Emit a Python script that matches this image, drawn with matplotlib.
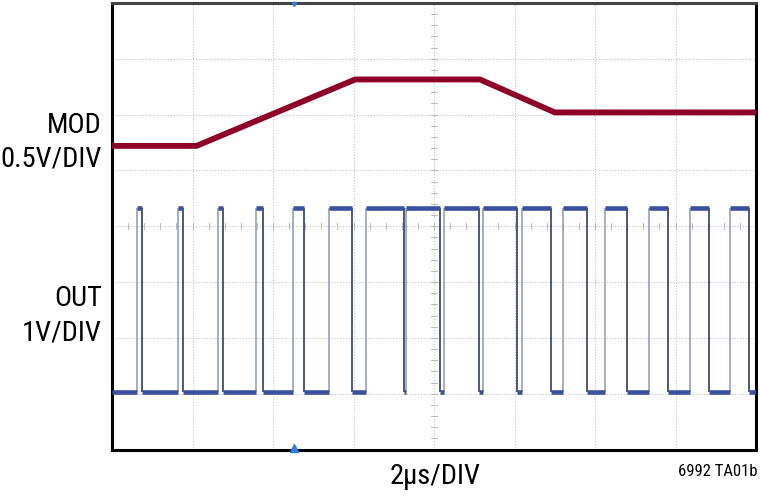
import numpy as np
import matplotlib.pyplot as plt

# time axis in microseconds (2us/DIV, 8 divisions), vertical in divisions
t_max = 16.0
n_div_y = 8

# MOD trace breakpoints (us, div)
mod_t = [0.0, 2.10, 6.04, 9.14, 11.0, 16.0]
mod_v = [5.44, 5.44, 6.63, 6.63, 6.04, 6.04]

# OUT switching edges (us)
out_rise = [0.614, 1.640, 2.634, 3.570, 4.490, 5.391, 6.303, 7.304,
            8.256, 9.225, 10.194, 11.198, 12.256, 13.334, 14.353, 15.362]
out_fall = [0.753, 1.757, 2.750, 3.759, 4.778, 5.970, 7.255, 8.149,
            9.126, 10.062, 10.907, 11.794, 12.788, 13.807, 14.825, 15.826]
out_high = 4.33
out_low = 1.03

trigger_t = 4.52

mod_color = '#8e0028'
out_color = '#3a51a0'

plt.rcParams['font.family'] = ['Roboto Condensed', 'Liberation Sans Narrow',
                               'Liberation Sans', 'DejaVu Sans']

fig = plt.figure(figsize=(7.6, 4.96), dpi=100)
ax = fig.add_axes([112 / 760, 1 - 449.5 / 496, 644 / 760, 446.5 / 496])
ax.set_xlim(0, t_max)
ax.set_ylim(0, n_div_y)
ax.set_xticks([])
ax.set_yticks([])

# grid
for gx in np.arange(2, t_max, 2):
    ax.axvline(gx, color='#c4c4c4', lw=0.8, ls=(0, (1, 1.5)), zorder=1)
for gy in range(1, n_div_y):
    ax.axhline(gy, color='#c4c4c4', lw=0.8, ls=(0, (1, 1.5)), zorder=1)

# center cross minor ticks
for tx in np.arange(0.4, t_max, 0.4):
    ax.plot([tx, tx], [4 - 0.05, 4 + 0.05], color='#b0b0b0', lw=0.6, zorder=1)
for ty in np.arange(0.2, n_div_y, 0.2):
    ax.plot([8 - 0.07, 8 + 0.07], [ty, ty], color='#b0b0b0', lw=0.6, zorder=1)

# MOD trace
ax.plot(mod_t, mod_v, color=mod_color, lw=4.2, solid_joinstyle='round', zorder=3)

# OUT trace: flat levels thick, edges thin
low_starts = [0.0] + out_fall
low_ends = out_rise + [t_max]
ax.hlines([out_low] * len(low_starts), low_starts, low_ends, color=out_color, lw=3.3, zorder=3)
ax.hlines([out_high] * len(out_rise), out_rise, out_fall, color=out_color, lw=3.3, zorder=3)
ax.vlines(out_rise, out_low, out_high, color='#8a98bc', lw=1.1, zorder=2)
ax.vlines(out_fall, out_low, out_high, color='#1e2a5a', lw=1.1, zorder=2)

# trigger markers
ax.plot([trigger_t], [0.02], marker='^', ms=6, color='#2a80e6', clip_on=False, zorder=5)
ax.plot([trigger_t], [n_div_y - 0.02], marker='v', ms=3, color='#2a80e6', clip_on=False, zorder=5)

for side in ['left', 'right', 'bottom']:
    ax.spines[side].set_linewidth(2.2)
    ax.spines[side].set_color('black')
ax.spines['top'].set_linewidth(2.2)
ax.spines['top'].set_color('#444444')

# labels
lab = 20.5
fig.text(102 / 760, 1 - 125.5 / 496, 'MOD', ha='right', va='center', fontsize=lab)
fig.text(102 / 760, 1 - 158.5 / 496, '0.5V/DIV', ha='right', va='center', fontsize=lab)
fig.text(102 / 760, 1 - 298 / 496, 'OUT', ha='right', va='center', fontsize=lab)
fig.text(102 / 760, 1 - 333 / 496, '1V/DIV', ha='right', va='center', fontsize=lab)
fig.text(435 / 760, 1 - 477 / 496, '2\u00b5s/DIV', ha='center', va='center', fontsize=lab)
fig.text(758 / 760, 1 - 472 / 496, '6992 TA01b', ha='right', va='center', fontsize=12)

fig.savefig('out.png', dpi=100)
